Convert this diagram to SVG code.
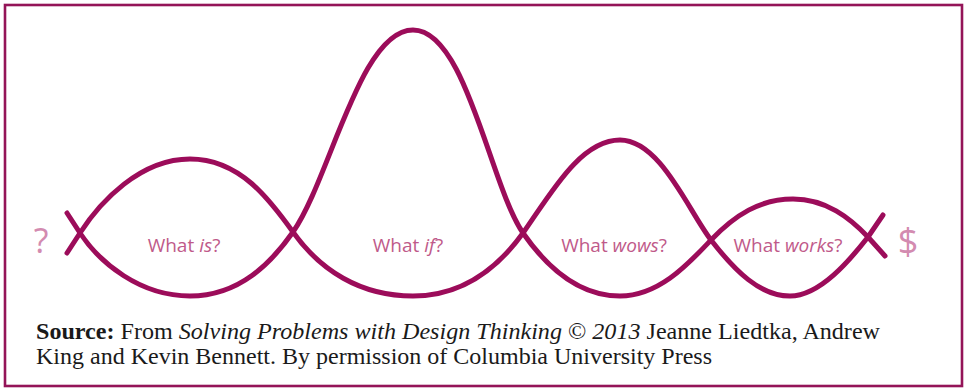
<svg xmlns="http://www.w3.org/2000/svg" width="964" height="388" viewBox="0 0 964 388">
<style>
.frame{fill:#fff;stroke:#941458;stroke-width:2.6}
.wave{fill:none;stroke:#9c0c5a;stroke-width:5;stroke-linecap:round;stroke-linejoin:round}
.lbl{font-family:"Open Sans","Liberation Sans",sans-serif;font-size:19px;fill:#bf5a8a;text-anchor:middle}
.sym{font-family:"Open Sans","Liberation Sans",sans-serif;fill:#d38bb0;text-anchor:middle}
.src{font-family:"Liberation Serif","Times New Roman",serif;font-size:23px;fill:#1a1a1a}
</style>
<rect class="frame" x="5" y="5" width="957" height="381"/>
<g id="connectors">
<path class="wave" d="M67,213 L80,233 C100,263 140,296 190,296 C240,296 272,262 293,232 C330,179 360,30 413,30 C466,30 490,185 523,233 C548,269 580,296 620,296 C660,296 690,262 711,240 C735,215 760,199 793,199 C826,199 850,218 868,237 L885,256"/>
<path class="wave" d="M67,253 L80,233 C100,202 140,159 190,159 C240,159 270,200 293,232 C320,270 360,296 413,296 C466,296 500,265 523,233 C550,195 580,140 620,140 C660,140 688,210 711,240 C735,271 760,296 790,296 C820,296 850,260 868,237 L883,215"/>
</g>
<g id="start"><text class="sym" x="41" y="253" font-size="34">?</text></g>
<g id="end"><text class="sym" x="908" y="254" font-size="36">$</text></g>
<g id="what-is"><text class="lbl" x="184" y="252">What <tspan font-style="italic">is</tspan>?</text></g>
<g id="what-if"><text class="lbl" x="408" y="252">What <tspan font-style="italic">if</tspan>?</text></g>
<g id="what-wows"><text class="lbl" x="614" y="252">What <tspan font-style="italic">wows</tspan>?</text></g>
<g id="what-works"><text class="lbl" x="788" y="252">What <tspan font-style="italic">works</tspan>?</text></g>
<g id="source">
<text class="src" x="36" y="339" textLength="844" lengthAdjust="spacingAndGlyphs"><tspan font-weight="bold">Source:</tspan> From <tspan font-style="italic">Solving Problems with Design Thinking</tspan> © <tspan font-style="italic">2013</tspan> Jeanne Liedtka, Andrew</text>
<text class="src" x="36" y="364" textLength="676" lengthAdjust="spacingAndGlyphs">King and Kevin Bennett. By permission of Columbia University Press</text>
</g>
</svg>
